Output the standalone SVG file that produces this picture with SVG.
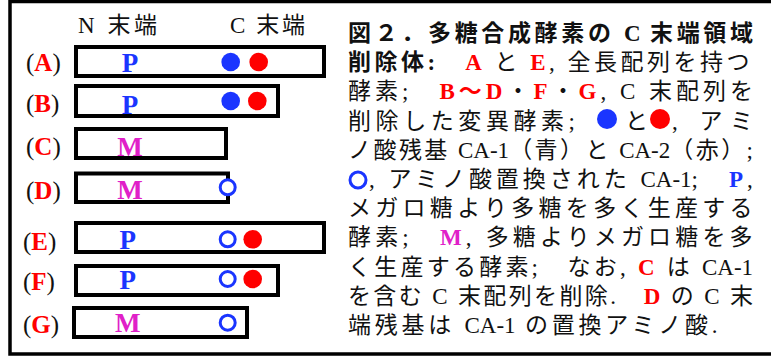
<svg xmlns="http://www.w3.org/2000/svg" width="771" height="360" viewBox="0 0 771 360">
<style>
.t{font-family:"Liberation Serif","Noto Sans CJK JP",serif;fill:#111}
.hd{font-size:23px}
.lbl{font-size:25px}
.lb{font-weight:bold;fill:#f00}
.bar{fill:#fff;stroke:#000;stroke-width:4}
.dom{font-family:"Liberation Serif",serif;font-weight:bold;font-size:27px;text-anchor:middle}
.p{fill:#1a35ff}
.m{fill:#e020c8}
.cb{fill:#1a35ff}
.cr{fill:#f00}
.co{fill:#fff;stroke:#1a35ff;stroke-width:3}
.cap{font-size:23px}
.r{fill:#f00;font-weight:bold}
.b{fill:#1a35ff;font-weight:bold}
.mg{fill:#e020c8;font-weight:bold}
.w{letter-spacing:0}
</style>
<rect x="10" y="1.5" width="800" height="352.5" fill="#fff" stroke="#000" stroke-width="3.5"/>
<g id="header">
<text class="t hd" x="78" y="33" textLength="79" lengthAdjust="spacing">N 末端</text>
<text class="t hd" x="230" y="33" textLength="75" lengthAdjust="spacing">C 末端</text>
</g>
<g id="rowA">
<text class="t lbl" x="26" y="71">(<tspan class="lb">A</tspan>)</text>
<rect class="bar" x="76" y="47" width="248" height="29"/>
<text class="dom p" x="130" y="72">P</text>
<circle class="cb" cx="230.7" cy="62" r="9.3"/>
<circle class="cr" cx="258.7" cy="62" r="9.3"/>
</g>
<g id="rowB">
<text class="t lbl" x="26" y="112">(<tspan class="lb">B</tspan>)</text>
<rect class="bar" x="76" y="86" width="202" height="30"/>
<text class="dom p" x="130" y="113.5">P</text>
<circle class="cb" cx="230.7" cy="101" r="9.3"/>
<circle class="cr" cx="257.3" cy="101" r="9.3"/>
</g>
<g id="rowC">
<text class="t lbl" x="26" y="155">(<tspan class="lb">C</tspan>)</text>
<rect class="bar" x="76" y="129" width="150" height="29"/>
<text class="dom m" x="130" y="155.5">M</text>
</g>
<g id="rowD">
<text class="t lbl" x="26" y="199">(<tspan class="lb">D</tspan>)</text>
<rect class="bar" x="76" y="173.5" width="152" height="28.5"/>
<text class="dom m" x="130" y="199">M</text>
<circle class="co" cx="227.7" cy="187.3" r="7.5"/>
</g>
<g id="rowE">
<text class="t lbl" x="23" y="250">(<tspan class="lb">E</tspan>)</text>
<rect class="bar" x="76" y="223" width="248" height="29"/>
<text class="dom p" x="127.7" y="249">P</text>
<circle class="co" cx="227.7" cy="239.3" r="7.5"/>
<circle class="cr" cx="252.7" cy="239.3" r="9.3"/>
</g>
<g id="rowF">
<text class="t lbl" x="23" y="290">(<tspan class="lb">F</tspan>)</text>
<rect class="bar" x="76" y="266" width="202" height="29"/>
<text class="dom p" x="127.7" y="289">P</text>
<circle class="co" cx="227.7" cy="279" r="7.5"/>
<circle class="cr" cx="252.7" cy="279" r="9.3"/>
</g>
<g id="rowG">
<text class="t lbl" x="23" y="333">(<tspan class="lb">G</tspan>)</text>
<rect class="bar" x="74" y="308" width="173" height="29"/>
<text class="dom m" x="127.7" y="332">M</text>
<circle class="co" cx="227.7" cy="322.7" r="7.5"/>
</g>
<g id="caption">
<text class="t cap" x="348" y="41" font-weight="bold" letter-spacing="3.66">図２．多糖合成酵素の <tspan class="w">C</tspan> 末端領域</text>
<text class="t cap" x="348" y="70.2" letter-spacing="3.49"><tspan font-weight="bold">削除体:</tspan>　<tspan class="r">A</tspan> と <tspan class="r">E</tspan>, 全長配列を持つ</text>
<text class="t cap" x="348" y="99.4" letter-spacing="4.01">酵素;　<tspan class="r">B〜D</tspan>・<tspan class="r">F</tspan>・<tspan class="r">G</tspan>, C 末配列を</text>
<text class="t cap" x="348" y="128.6" textLength="227" lengthAdjust="spacing">削除した変異酵素;</text>
<circle class="cb" cx="607" cy="119" r="10"/>
<text class="t cap" x="625" y="128.6">と</text>
<circle class="cr" cx="660" cy="119" r="10"/>
<text class="t cap" x="672" y="128.6" textLength="81" lengthAdjust="spacing">, アミ</text>
<text class="t cap" x="348" y="157.8" letter-spacing="2.45">ノ酸残基 <tspan class="w">CA-1</tspan>（青）と <tspan class="w">CA-2</tspan>（赤）;</text>
<circle class="co" cx="358" cy="180" r="8"/>
<text class="t cap" x="369" y="187" letter-spacing="3.97">, アミノ酸置換された <tspan class="w">CA-1</tspan>;　<tspan class="b">P</tspan>,</text>
<text class="t cap" x="348" y="216.2" letter-spacing="4.29">メガロ糖より多糖を多く生産する</text>
<text class="t cap" x="348" y="245.4" letter-spacing="4.15">酵素;　<tspan class="mg">M</tspan>, 多糖よりメガロ糖を多</text>
<text class="t cap" x="348" y="274.6" letter-spacing="3.23">く生産する酵素;　なお, <tspan class="r">C</tspan> は <tspan class="w">CA-1</tspan></text>
<text class="t cap" x="348" y="303.8" letter-spacing="2.36">を含む C 末配列を削除.　<tspan class="r">D</tspan> の C 末</text>
<text class="t cap" x="348" y="333" letter-spacing="3.74">端残基は <tspan class="w">CA-1</tspan> の置換アミノ酸.</text>
</g>
</svg>
